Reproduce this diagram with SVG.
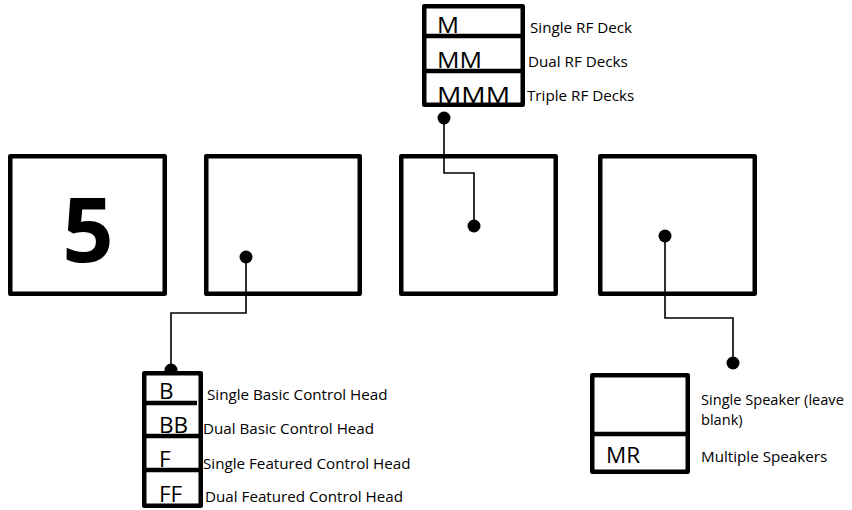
<svg xmlns="http://www.w3.org/2000/svg" width="852" height="510" viewBox="0 0 852 510">
<style>
.box{fill:#fff;stroke:#000;stroke-width:4.5;stroke-linejoin:round}
.div{stroke:#000;stroke-width:4.5}
.wire{fill:none;stroke:#000;stroke-width:1.6}
.dot{fill:#000}
.code{font-family:"Open Sans","Liberation Sans",sans-serif;font-size:22.5px;fill:#000}
.lbl{font-family:"Open Sans","Liberation Sans",sans-serif;font-size:15.2px;fill:#000}
.big{font-family:"Open Sans","Liberation Sans",sans-serif;font-size:90px;font-weight:bold;fill:#000}
</style>
<rect width="852" height="510" fill="#fff"/>
<g id="box1"><rect class="box" x="10.25" y="156.25" width="154.5" height="137.5"/><text class="big" x="88" y="262" text-anchor="middle">5</text></g>
<g id="box2"><rect class="box" x="206.25" y="156.25" width="153.5" height="137.5"/></g>
<g id="box3"><rect class="box" x="401.25" y="156.25" width="154.5" height="137.5"/></g>
<g id="box4"><rect class="box" x="600.25" y="156.25" width="154.5" height="137.5"/></g>
<g id="connectors">
<polyline class="wire" points="246,257 246,313 171,313 171,370"/>
<circle class="dot" cx="246" cy="257" r="6.5"/>
<circle class="dot" cx="171" cy="370" r="6.5"/>
<polyline class="wire" points="474,226 474,173 444,173 444,118"/>
<circle class="dot" cx="474" cy="226" r="6.5"/>
<circle class="dot" cx="444" cy="118" r="6.5"/>
<polyline class="wire" points="665,236 665,318 733,318 733,363"/>
<circle class="dot" cx="665" cy="236" r="6.5"/>
<circle class="dot" cx="733" cy="363" r="6.5"/>
</g>
<g id="rf-stack">
<rect x="424" y="6" width="99" height="99" fill="#fff"/>
<text class="code" x="437" y="33" textLength="22" lengthAdjust="spacingAndGlyphs">M</text>
<text class="code" x="437" y="68" textLength="45" lengthAdjust="spacingAndGlyphs">MM</text>
<text class="code" x="437" y="103" textLength="73" lengthAdjust="spacingAndGlyphs">MMM</text>
<line class="div" x1="424" y1="36" x2="523" y2="36"/>
<line class="div" x1="424" y1="71" x2="523" y2="71"/>
<rect x="424.25" y="6.25" width="98.5" height="98.5" fill="none" stroke="#000" stroke-width="4.5" stroke-linejoin="round"/>
<text class="lbl" x="530" y="33">Single RF Deck</text>
<text class="lbl" x="528" y="67">Dual RF Decks</text>
<text class="lbl" x="527" y="101">Triple RF Decks</text>
</g>
<g id="control-head-stack">
<rect x="144" y="373" width="57" height="133" fill="#fff"/>
<text class="code" x="159" y="399">B</text>
<text class="code" x="159" y="433">BB</text>
<text class="code" x="159" y="467">F</text>
<text class="code" x="159" y="502">FF</text>
<line class="div" x1="144" y1="403" x2="197" y2="403"/>
<line class="div" x1="144" y1="436" x2="201" y2="436"/>
<line class="div" x1="144" y1="470" x2="201" y2="470"/>
<rect x="144.25" y="373.25" width="56.5" height="132.5" fill="none" stroke="#000" stroke-width="4.5" stroke-linejoin="round"/>
<text class="lbl" x="207" y="400">Single Basic Control Head</text>
<text class="lbl" x="203" y="434">Dual Basic Control Head</text>
<text class="lbl" x="203" y="469">Single Featured Control Head</text>
<text class="lbl" x="205" y="502">Dual Featured Control Head</text>
</g>
<g id="speaker-stack">
<rect class="box" x="592.25" y="375.25" width="95.5" height="96.5"/>
<line class="div" x1="592" y1="434" x2="688" y2="434"/>
<text class="code" x="606" y="463">MR</text>
<text class="lbl" x="701" y="405" style="font-size:14.6px">Single Speaker (leave</text>
<text class="lbl" x="701" y="425" style="font-size:14.6px">blank)</text>
<text class="lbl" x="701" y="462">Multiple Speakers</text>
</g>
</svg>
